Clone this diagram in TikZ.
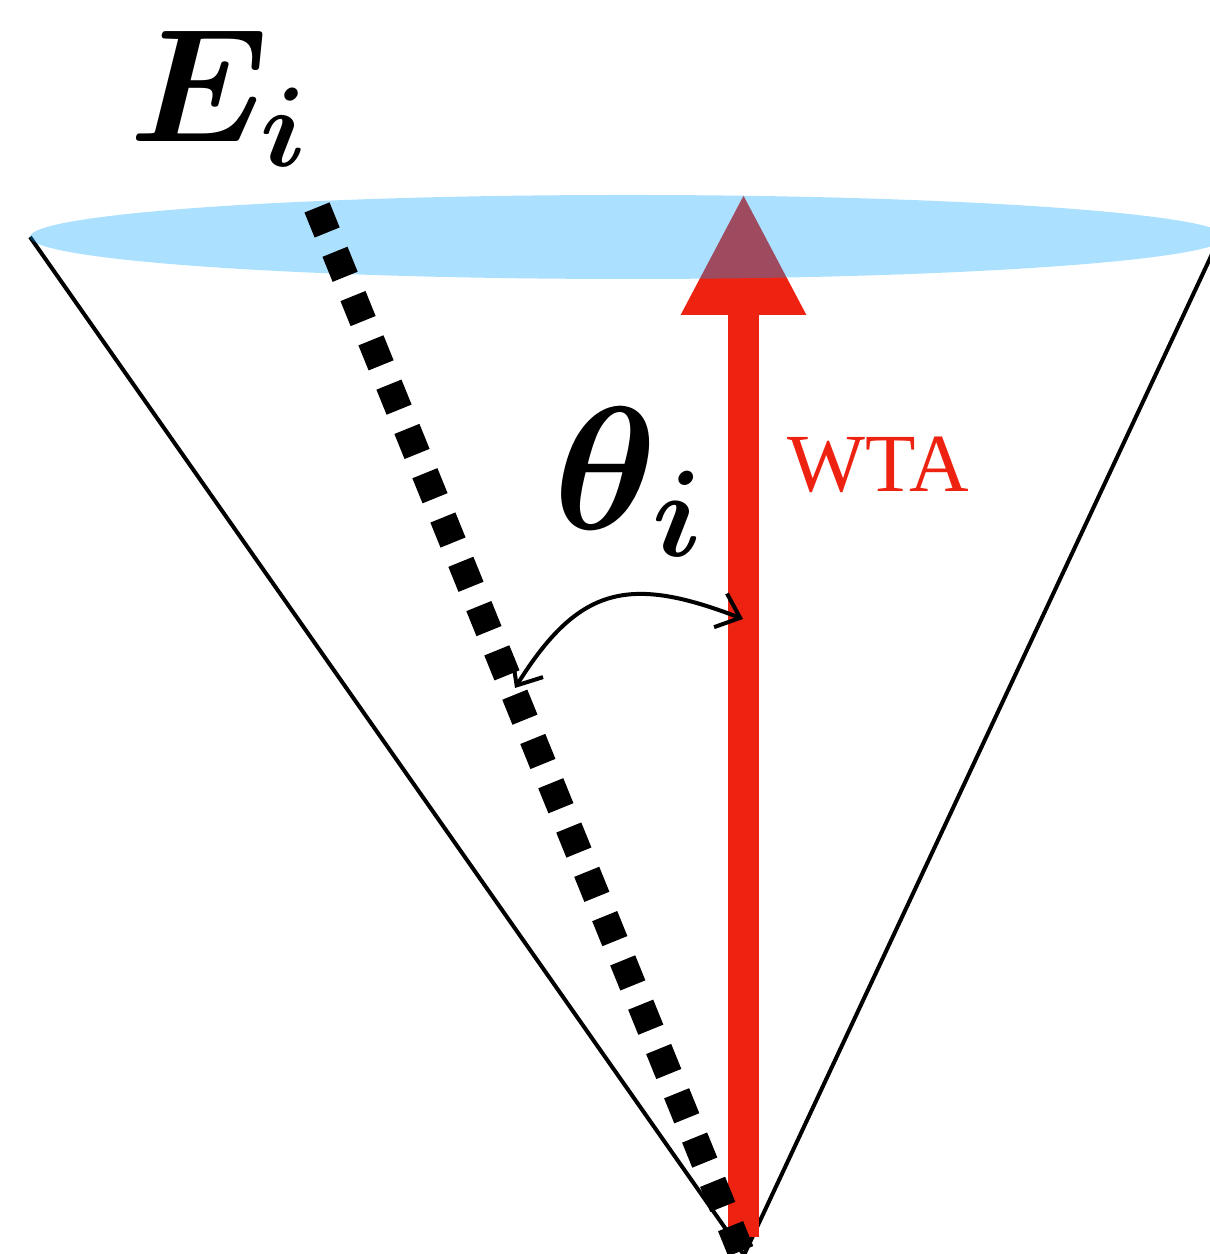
\RequirePackage{fix-cm}
\documentclass[tikz,border=0pt]{standalone}
\usepackage{fontspec}
\newfontfamily\wtafont{Liberation Serif}
\usetikzlibrary{arrows.meta}
\definecolor{wtared}{RGB}{238,34,17}
\definecolor{rimblue}{RGB}{0,160,255}

\begin{document}
\begin{tikzpicture}[cone/.style={draw=black, line width=0.4mm},
        rim/.style={fill=rimblue, fill opacity=0.33},
        wta/.style={draw=wtared, line width=3.1mm, -{Triangle[length=12.2mm,width=11.6mm]}},
        dotsq/.style={draw=black, line width=2.7mm, dash pattern=on 2.7mm off 2.08mm},
        angarc/.style={line width=0.4mm, {Straight Barb[length=2.1mm,width=3.6mm]}-{Straight Barb[length=2.1mm,width=3.6mm]}},
        mathlbl/.style={anchor=base west, inner sep=0pt, font=\fontsize{50}{60}\selectfont\boldmath}]
                \useasboundingbox (0,0) rectangle (12.09,12.54);
                \coordinate (apex) at (7.44,-0.01);
                \coordinate (rimL) at (0.30,10.17);
                \coordinate (rimR) at (12.20,10.17);
                \coordinate (rimC) at (6.28,10.17);
                \coordinate (wtaFoot) at (7.435,0.17);
                \coordinate (wtaTip) at (7.435,10.61);
                \coordinate (eTop) at (3.17,10.465);
                \coordinate (eFoot) at (7.50,-0.20);
                \coordinate (thA) at (5.15,5.66);
                \coordinate (thB) at (7.43,6.35);
                % cone
                \draw[cone] (rimL) -- (apex) -- (rimR);
                \draw[wta] (wtaFoot) -- (wtaTip);
                \fill[rim] (rimC) ellipse [x radius=5.98, y radius=0.42];
                \draw[dotsq] (eTop) -- (eFoot);
                \draw[angarc] (thA) to[out=58, in=159, looseness=1.3] (thB);
                % labels
                \node[mathlbl, font=\fontsize{46}{56}\selectfont\boldmath] (elbl) at (1.29,11.12) {$E_i$};
                \node[mathlbl] (thlbl) at (5.53,7.24) {$\theta_i$};
                \node[anchor=base west, inner sep=0pt, text=wtared, font=\wtafont\fontsize{23.5}{28}\selectfont] (wtalbl) at (7.87,7.62) {WTA};
            \end{tikzpicture}
\end{document}
